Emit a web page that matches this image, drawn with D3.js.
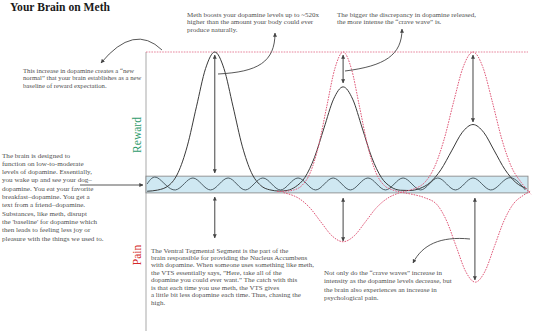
<!DOCTYPE html>
<html><head><meta charset="utf-8">
<script src="https://cdn.jsdelivr.net/npm/d3@7"></script>
<style>
body{margin:0;background:#fff}
svg{display:block}
text{font-family:"Liberation Serif","Times New Roman",serif}
</style>
</head><body>
<svg id="c" width="533" height="331"></svg>
<script>
// ---- data (time t: 0..100, dopamine level v: -100..100, baseline 0) ----
const rewardCurve = [[0.3,0.2],[3,1],[6,4.4],[8.4,13.5],[10.8,32.5],[13.2,60.7],[15.6,88.2],[18,100],[20.4,88.2],[22.8,60.7],[25.2,32.5],[27.6,13.5],[30,4.4],[32.4,1.2],[35,0.3],[37,0.8],[39.1,3.3],[41.6,10.1],[44.1,24.4],[46.6,45.5],[49.1,66.2],[51.6,75],[54.1,66.2],[56.6,45.5],[59.1,24.4],[61.6,10.1],[64.1,3.3],[66.6,0.9],[69,0.7],[71.6,2.1],[74.4,6.5],[77.2,15.6],[80,29.1],[82.8,42.4],[85.6,48],[88.4,42.4],[91.2,29.1],[94,15.6],[96.8,6.5],[99.6,2.1]];
const craveWaveA = [[34.3,0],[36.6,0.2],[38.7,1.1],[40.85,4.4],[43,13.5],[45.15,32.5],[47.3,60.7],[49.45,88.2],[51.6,100],[53.75,88.2],[55.9,60.7],[58.05,32.5],[60.2,13.5],[62.35,4.4],[64.5,1.2],[67,-0.6],[70,-2.2],[73,-4.5],[76.2,-9.5],[78.7,-21.1],[81.2,-39.4],[83.7,-57.4],[86.2,-65],[88.7,-57.4],[91.2,-39.4],[93.7,-21.1],[96.2,-8.8],[98.7,-2.9],[100.8,0.5]];
const craveWaveB = [[36,-0.8],[37.1,-1.6],[40,-4.9],[42.9,-11.7],[45.8,-21.9],[48.7,-31.8],[51.6,-36],[54.5,-31.8],[57.4,-21.9],[60.3,-11.7],[63.2,-4.9],[66.1,-1.2],[68.5,0.6],[70.5,2.2],[73,6.6],[75.5,17.4],[78,37],[80.6,65],[83,89],[85.6,100],[88.2,89],[90.6,65],[93.2,37],[95.7,17.4],[98.2,6.6],[100.8,-2]];
const baselineWave = [[0.3,5.4],[3.1,9.7],[7.7,1.1],[12.3,9.7],[16.9,1.1],[21.5,9.7],[26,1.1],[30.6,9.7],[35.2,1.1],[39.8,9.7],[44.4,1.1],[49,9.7],[53.5,1.1],[58.1,9.7],[62.7,1.1],[67.3,9.7],[71.9,1.1],[76.4,9.7],[81,1.1],[85.6,9.7],[90.2,1.1],[94.8,9.7],[99.3,1.1]];
const baselineBand = [-1, 11];
const maxLevel = 100;
// gap arrows: [t, fromLevel, toLevel]
const gapArrows = [[18,97.8,13.3],[18,-3.9,-33.3],[51.6,97.8,77.8],[51.6,-4.7,-35.5],[85.6,97.8,49.8],[86.1,-4.7,-63.4]];
const axisLabels = ["Reward","Pain"];
const title = "Your Brain on Meth";
const notes = [
  {x:23, y:72.5, dy:7.7, size:6.7, lines:["This increase in dopamine creates a \u201cnew","normal\u201d that your brain establishes as a new","baseline of reward expectation."]},
  {x:187, y:16.5, dy:7.8, size:7, lines:["Meth boosts your dopamine levels up to ~520x","higher than the amount your body could ever","produce naturally."]},
  {x:337, y:16.5, dy:7.8, size:7, lines:["The bigger the discrepancy in dopamine released,","the more intense the \u201ccrave wave\u201d is."]},
  {x:2, y:157.5, dy:8.3, size:7.1, lines:["The brain is designed to","function on low-to-moderate","levels of  dopamine. Essentially,","you wake up and see your dog\u2013","dopamine. You eat your favorite","breakfast\u2013dopamine. You get a","text from a friend\u2013dopamine.","Substances, like meth, disrupt","the 'baseline' for dopamine which","then leads to feeling less joy or","pleasure with the things we used to."]},
  {x:151, y:252.5, dy:7.45, size:7, lines:["The Ventral Tegmental Segment is the part of the","brain responsible for providing the Nucleus Accumbens","with dopamine. When someone uses something like meth,","the VTS essentially says, \u201dHere, take all of the","dopamine you could ever want.\u201d The catch with this","is that each time you use meth, the VTS gives","a little bit less dopamine each time. Thus, chasing the","high."]},
  {x:324, y:275, dy:8.3, size:7, lines:["Not only do the \u201ccrave waves\u201d increase in","intensity as the dopamine levels decrease, but","the brain also experiences an increase in","psychological pain."]}
];

// ---- drawing ----
const svg = d3.select("#c");
const x = d3.scaleLinear().domain([0,100]).range([146,528]);
const y = d3.scaleLinear().domain([-100,100]).range([331,52]);

const defs = svg.append("defs");
defs.append("marker").attr("id","ah").attr("viewBox","0 0 6 6").attr("refX",5.5).attr("refY",3)
  .attr("markerWidth",4).attr("markerHeight",4).attr("markerUnits","userSpaceOnUse").attr("orient","auto-start-reverse")
  .append("path").attr("d","M0,0L6,3L0,6z").attr("fill","#444");

const pink = "#e05878";
const dash = "1.6,1.1";

// title
svg.append("text").attr("x",10).attr("y",11).attr("font-size",11.6).attr("font-weight","bold").attr("fill","#1a1a1a").text(title);

// axis line
svg.append("line").attr("x1",x(0)).attr("x2",x(0)).attr("y1",y(maxLevel)).attr("y2",331).attr("stroke","#a9a9a9").attr("stroke-width",1);
// top max line
svg.append("line").attr("x1",x(0)).attr("x2",x(100)).attr("y1",y(maxLevel)).attr("y2",y(maxLevel))
  .attr("stroke",pink).attr("stroke-width",0.9).attr("stroke-dasharray",dash).attr("opacity",0.8);

// band
svg.append("rect").attr("x",x(0)).attr("y",y(baselineBand[1])).attr("width",x(100)-x(0)).attr("height",y(baselineBand[0])-y(baselineBand[1]))
  .attr("fill","#cfe8f2").attr("stroke","#8c8c8c").attr("stroke-width",0.9);

const line = d3.line().x(d=>x(d[0])).y(d=>y(d[1]));
svg.append("path").datum(baselineWave).attr("d",line.curve(d3.curveNatural)).attr("fill","none").attr("stroke","#4e5e66").attr("stroke-width",1);
svg.append("path").datum(rewardCurve).attr("d",line.curve(d3.curveMonotoneX)).attr("fill","none").attr("stroke","#3a3a3a").attr("stroke-width",1);
[craveWaveA, craveWaveB].forEach(s=>{
  svg.append("path").datum(s).attr("d",line.curve(d3.curveMonotoneX)).attr("fill","none").attr("stroke",pink).attr("stroke-width",1).attr("stroke-dasharray",dash);
});

// gap arrows
gapArrows.forEach(a=>{
  svg.append("line").attr("x1",x(a[0])).attr("x2",x(a[0])).attr("y1",y(a[1])).attr("y2",y(a[2]))
    .attr("stroke","#555").attr("stroke-width",1.1).attr("marker-start","url(#ah)").attr("marker-end","url(#ah)");
});

// annotation arrows
const ann = ["M162,50 Q134,23 101,63","M218,74 C258,72 275,62 275,33","M345,71 C385,66 402,55 402,29","M80,185 L143,185","M470,239 C440,236 422,245 413,263"];
ann.forEach(d=>svg.append("path").attr("d",d).attr("fill","none").attr("stroke","#444").attr("stroke-width",0.9).attr("marker-end","url(#ah)"));

// axis labels
svg.append("text").attr("transform","translate(141,135) rotate(-90)").attr("text-anchor","middle").attr("font-size",11.5).attr("fill","#2e9b6c").text(axisLabels[0]);
svg.append("text").attr("transform","translate(141,255) rotate(-90)").attr("text-anchor","middle").attr("font-size",11.5).attr("fill","#d42a2a").text(axisLabels[1]);

// notes
notes.forEach(n=>{
  const t = svg.append("text").attr("font-size",n.size).attr("fill","#505050");
  n.lines.forEach((l,i)=>t.append("tspan").attr("x",n.x).attr("y",n.y+i*n.dy).text(l));
});
</script>
</body></html>
